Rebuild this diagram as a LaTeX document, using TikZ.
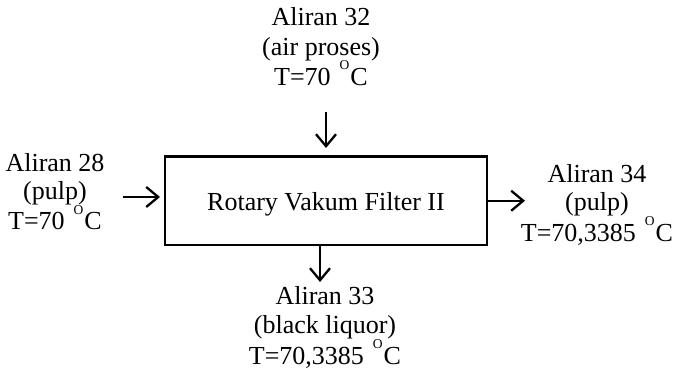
\documentclass[tikz,border=0pt]{standalone}
\usepackage{fontspec}
\setmainfont{Liberation Serif}
\usetikzlibrary{arrows.meta}
% raised small "O" used as the degree mark before C
\newcommand{\supO}{\hspace{9pt}\raisebox{16pt}{\fontsize{13.5}{13.5}\selectfont O}\hspace{1pt}}

\begin{document}
\begin{tikzpicture}[x=1pt,y=-1pt,
  txt/.style={anchor=base, inner sep=0pt, font=\fontsize{26}{30}\selectfont},
  unit/.style={draw, line width=2.8pt, minimum width=322pt, minimum height=88.5pt,
    inner sep=0pt, text height=19pt, text depth=0pt, font=\fontsize{26}{30}\selectfont},
  flow/.style={line width=2.3pt, -{Straight Barb[length=12pt,width=20pt]}}]
\useasboundingbox (0,0) rectangle (674,379);

% process unit
\node[unit] (rvf) at (326,200.75) {Rotary Vakum Filter II};

% stream 32 (top inlet)
\node[txt] (s32a) at (321,26) {Aliran 32};
\node[txt] (s32b) at (321,56) {(air proses)};
\node[txt] (s32c) at (321,86) {T=70\supO C};

% stream 28 (left inlet)
\node[txt] (s28a) at (55,172) {Aliran 28};
\node[txt] (s28b) at (55,200) {(pulp)};
\node[txt] (s28c) at (55,230) {T=70\supO C};

% stream 34 (right outlet)
\node[txt] (s34a) at (597,183) {Aliran 34};
\node[txt] (s34b) at (597,211) {(pulp)};
\node[txt] (s34c) at (597,242) {T=70,3385\supO C};

% stream 33 (bottom outlet)
\node[txt] (s33a) at (325,304) {Aliran 33};
\node[txt] (s33b) at (325,333) {(black liquor)};
\node[txt] (s33c) at (325,364) {T=70,3385\supO C};

% arrow end points
\coordinate (inTs) at (326,112);
\coordinate (inTe) at (326,148);
\coordinate (inLs) at (123,197);
\coordinate (inLe) at (160,197);
\coordinate (outR) at (525,200.75);
\coordinate (outB) at (320,282);

\draw[flow] (inTs) -- (inTe);
\draw[flow] (inLs) -- (inLe);
\draw[flow] (rvf.east) -- (outR);
\draw[flow] (rvf.south -| outB) -- (outB);
\end{tikzpicture}
\end{document}
